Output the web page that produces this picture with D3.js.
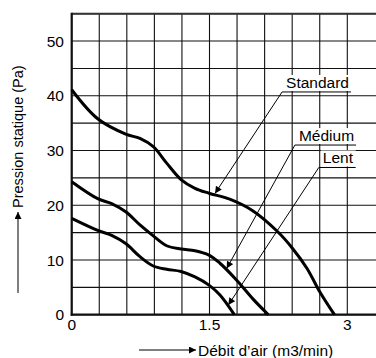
<!DOCTYPE html>
<meta charset="utf-8">
<style>
  body { margin: 0; background: #fff; }
  text { font-family: "Liberation Sans", Arial, sans-serif; fill: #000; }
</style>
<body>
<script src="https://d3js.org/d3.v7.min.js"></script>
<script>

// débit (m3/min) / pression statique (Pa)
var standardFlow = [0, 0.283, 0.588, 0.743, 0.888, 1.034, 1.19, 1.342, 1.494, 1.72, 1.97, 2.24, 2.40, 2.56, 2.70, 2.86];
var standardPressure = [41.1, 35.8, 33.0, 32.2, 30.7, 27.7, 24.7, 23.1, 22.2, 21.1, 19.0, 15.2, 12.2, 8.5, 4.2, 0];

var mediumFlow = [0, 0.283, 0.435, 0.588, 0.743, 0.888, 1.034, 1.19, 1.342, 1.494, 1.614, 1.796, 1.977, 2.14];
var mediumPressure = [24.3, 21.2, 20.3, 18.8, 16.4, 14.4, 12.6, 12.0, 11.7, 10.9, 9.4, 6.3, 2.8, 0];

var lentFlow = [0, 0.283, 0.435, 0.588, 0.743, 0.888, 1.034, 1.19, 1.342, 1.494, 1.614, 1.77];
var lentPressure = [17.6, 15.4, 14.5, 13.0, 10.6, 8.9, 8.3, 7.9, 6.9, 5.4, 3.6, 0];

var seriesNames = ["Standard", "Médium", "Lent"];
var tipFlow = [1.56, 1.687, 1.705];
var labelFlow = [2.29, 2.43, 2.69];
var labelPressure = [40.7, 31, 26.9];

var xTicks = [0, 1.5, 3];
var yTicks = [0, 10, 20, 30, 40, 50];
var xGrid = d3.range(0, 3.01, 0.3);
var yGrid = d3.range(0, 55.1, 5);

var width = 376,
    height = 358,
    plotLeft = 71.7,
    plotTop = 13.7,
    plotBottom = 314.7;

var svg = d3.select("body")
  .append("svg")
  .attr("width", width)
  .attr("height", height);

var x = d3.scaleLinear().domain([0, 3]).range([plotLeft, 347.3]);
var y = d3.scaleLinear().domain([0, 55]).range([plotBottom, plotTop]);

var defs = svg.append("defs");
defs.append("marker")
  .attr("id", "head")
  .attr("viewBox", "0 0 10 10")
  .attr("refX", 10).attr("refY", 5)
  .attr("markerWidth", 8).attr("markerHeight", 7)
  .attr("markerUnits", "userSpaceOnUse")
  .attr("orient", "auto")
  .append("path").attr("d", "M0,0L10,5L0,10Z").attr("fill", "#000");

// grid
svg.append("g").selectAll("line").data(xGrid).join("line")
  .attr("x1", d => x(d)).attr("x2", d => x(d))
  .attr("y1", plotTop).attr("y2", plotBottom)
  .attr("stroke", "#111").attr("stroke-width", 1.1);

svg.append("g").selectAll("line").data(yGrid).join("line")
  .attr("x1", plotLeft).attr("x2", width)
  .attr("y1", d => y(d)).attr("y2", d => y(d))
  .attr("stroke", "#111").attr("stroke-width", 1.1);

// frame
svg.append("line").attr("x1", plotLeft).attr("x2", width).attr("y1", plotTop).attr("y2", plotTop)
  .attr("stroke", "#333").attr("stroke-width", 2);
svg.append("line").attr("x1", plotLeft).attr("x2", plotLeft).attr("y1", plotTop - 1).attr("y2", plotBottom + 1)
  .attr("stroke", "#111").attr("stroke-width", 2.2);
svg.append("line").attr("x1", plotLeft - 1).attr("x2", width).attr("y1", plotBottom).attr("y2", plotBottom)
  .attr("stroke", "#111").attr("stroke-width", 2.2);

// tick labels
svg.append("g").selectAll("text").data(yTicks).join("text")
  .attr("x", 64).attr("y", d => y(d)).attr("dy", "0.36em")
  .attr("text-anchor", "end").attr("font-size", 15.5)
  .text(d => d);

svg.append("g").selectAll("text").data(xTicks).join("text")
  .attr("x", d => x(d)).attr("y", 330)
  .attr("text-anchor", "middle").attr("font-size", 15.5)
  .text(d => d);

// curves
var series = [
  {flow: standardFlow, pressure: standardPressure},
  {flow: mediumFlow, pressure: mediumPressure},
  {flow: lentFlow, pressure: lentPressure}
];

var line = d3.line()
  .x(d => x(d[0]))
  .y(d => y(d[1]))
  .curve(d3.curveCatmullRom.alpha(0.5));

svg.append("g").selectAll("path").data(series).join("path")
  .attr("d", s => line(d3.zip(s.flow, s.pressure)))
  .attr("fill", "none")
  .attr("stroke", "#000")
  .attr("stroke-width", 3);

// labels with leader arrows
series.forEach(function(s, i) {
  var onCurve = d3.scaleLinear().domain(s.flow).range(s.pressure);
  var lx = x(labelFlow[i]), ly = y(labelPressure[i]);
  var tx = x(tipFlow[i]), ty = y(onCurve(tipFlow[i]));

  var g = svg.append("g");
  var t = g.append("text")
    .attr("x", lx + 4).attr("y", ly - 4)
    .attr("font-size", 15.5)
    .text(seriesNames[i]);
  var bb = t.node().getBBox();
  g.insert("rect", "text")
    .attr("x", bb.x - 2).attr("y", bb.y + 1)
    .attr("width", bb.width + 4).attr("height", bb.height - 1)
    .attr("fill", "#fff");

  g.append("line")
    .attr("x1", lx).attr("x2", lx + bb.width + 6)
    .attr("y1", ly).attr("y2", ly)
    .attr("stroke", "#000").attr("stroke-width", 1);
  g.append("line")
    .attr("x1", lx).attr("y1", ly)
    .attr("x2", tx).attr("y2", ty - 1.5)
    .attr("stroke", "#000").attr("stroke-width", 1)
    .attr("marker-end", "url(#head)");
});

// axis titles
svg.append("line")
  .attr("x1", 139).attr("x2", 196).attr("y1", 350).attr("y2", 350)
  .attr("stroke", "#000").attr("stroke-width", 1)
  .attr("marker-end", "url(#head)");
svg.append("text")
  .attr("x", 198).attr("y", 350).attr("dy", "0.36em")
  .attr("font-size", 15.5)
  .text("Débit d’air (m3/min)");

svg.append("line")
  .attr("x1", 18).attr("x2", 18).attr("y1", 293).attr("y2", 212)
  .attr("stroke", "#000").attr("stroke-width", 1)
  .attr("marker-end", "url(#head)");
svg.append("text")
  .attr("transform", "translate(18,208) rotate(-90)")
  .attr("dy", "0.36em")
  .attr("font-size", 14.5)
  .text("Pression statique (Pa)");

</script>
